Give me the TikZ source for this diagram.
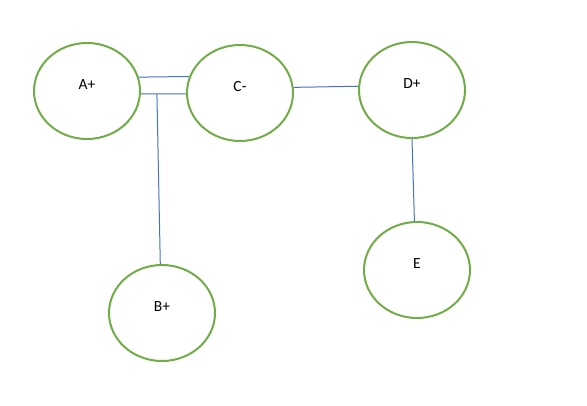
\documentclass[tikz,border=0pt]{standalone}
\usepackage{fontspec}
\setmainfont{Carlito}
\usetikzlibrary{shapes.geometric,calc}
\definecolor{ringgreen}{HTML}{70AD47}
\definecolor{linkblue}{HTML}{4472C4}
\begin{document}
\begin{tikzpicture}[x=1pt,y=-1pt,
  ring/.style={ellipse,draw=ringgreen,line width=2pt,minimum width=106pt,minimum height=96pt,inner sep=0pt},
  tag/.style={label={[font=\fontsize{15.5}{18}\selectfont,yshift=6pt,inner sep=0pt]center:#1}},
  link/.style={draw=linkblue,line width=1pt}]
\useasboundingbox (0,0) rectangle (587,405);
\node[ring,tag={A+}] (A) at (87,91) {};
\node[ring,tag={C-}] (C) at (240,93) {};
\node[ring,tag={D+}] (D) at (412,90) {};
\node[ring,tag={E}]  (E) at (417,270) {};
\node[ring,tag={B+}] (B) at (162,313) {};
\draw[link] (A.15) -- (C.162);
\draw[link] (A.-3) -- (C.181);
\coordinate (j) at ($(A.-3)!0.355!(C.181)$);
\draw[link] (j) -- (B.92);
\draw[link] (C.6) -- (D.176);
\draw[link] (D.south) -- (E.93);
\end{tikzpicture}
\end{document}
